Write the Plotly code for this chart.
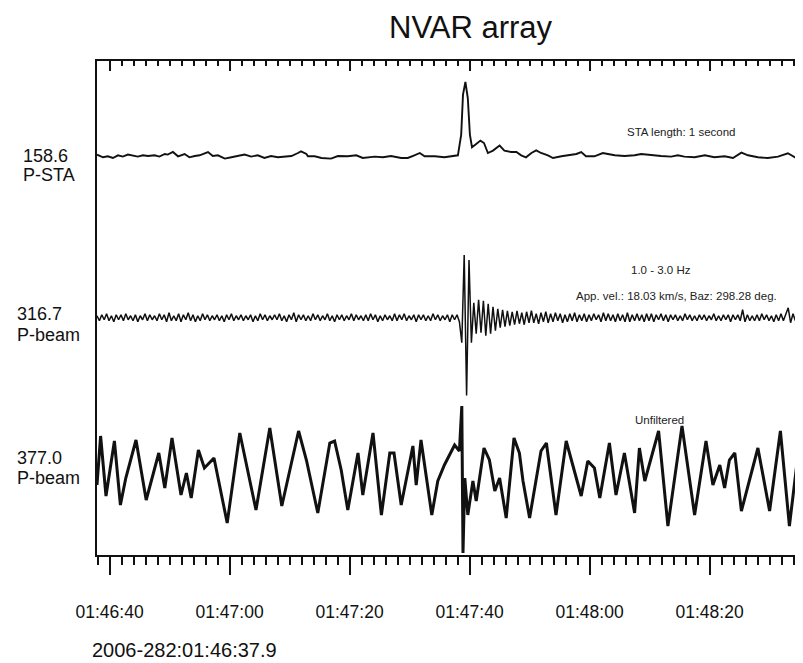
import numpy as np
import plotly.graph_objects as go

TITLE = "NVAR array"
START_LABEL = "2006-282:01:46:37.9"
TICK_LABELS = ["01:46:40", "01:47:00", "01:47:20", "01:47:40", "01:48:00", "01:48:20"]
TICK_SECONDS = [2.1, 22.1, 42.1, 62.1, 82.1, 102.1]   # seconds after 01:46:37.9
T_END = 119.0

# --- Trace 1: P-STA (seconds after start, amplitude) ---
STA_T = [0.0, 1.0, 1.8, 2.65, 3.5, 4.3, 5.15, 6.0, 6.8, 7.65, 8.5, 9.6, 10.4, 11.3, 11.8, 12.65,
         13.5, 14.6, 15.4, 16.3, 17.1, 18.5, 19.3, 20.15, 21.3, 22.4, 23.5, 24.6, 25.7, 26.8,
         27.9, 29.0, 30.15, 31.3, 32.4, 33.5, 34.0, 34.9, 35.15, 36.3, 37.4, 39.0, 40.15, 41.8,
         43.2, 44.3, 46.3, 47.65, 49.0, 50.7, 51.8, 52.9, 53.8, 54.6, 56.3, 57.9, 59.6, 60.15,
         60.7, 61.0, 61.4, 61.8, 62.15, 62.5, 63.2, 63.9, 64.5, 65.15, 66.0, 67.1, 67.9, 69.0,
         69.9, 70.7, 71.5, 72.4, 73.2, 74.0, 75.15, 76.0, 77.4, 79.0, 79.9, 80.7, 81.5, 82.9,
         84.3, 85.15, 86.3, 87.9, 89.6, 90.7, 92.4, 94.0, 95.7, 96.8, 97.9, 99.6, 101.3, 102.9,
         104.6, 106.0, 107.4, 108.5, 110.15, 111.8, 113.5, 115.15, 116.5, 117.9, 119.0]
STA_AMP = [1.7, -1.0, 0.0, -1.7, 1.0, -0.3, 1.7, 0.7, -0.3, 1.0, 0.3, 1.0, -0.3, 2.3, 1.7, 4.3,
           0.0, 2.3, -1.0, 0.3, 1.0, 4.3, 0.3, 1.0, -2.3, -1.0, 0.3, 1.7, -0.3, 1.0,
           -1.7, 0.3, -1.0, -0.7, 0.3, 3.3, 5.0, 2.3, 0.0, 0.0, -1.7, -2.3, 0.3, 0.0,
           1.0, -1.7, -0.3, -1.0, 0.3, -1.7, -1.7, 1.0, 3.3, 0.0, 0.0, -1.0, 0.3, 1.0,
           21.7, 61.7, 74.3, 58.3, 21.7, 9.0, 12.3, 15.7, 13.3, 3.3, 5.7, 10.7, 5.7, 4.3,
           4.3, 1.0, -1.0, 3.3, 6.0, 3.3, 1.0, -1.7, 0.0, 1.0, 2.3, 4.3, 0.0, 0.0,
           3.3, 2.3, 1.0, 0.3, 1.0, 2.3, 1.0, 0.3, -0.3, 1.0, -0.3, -1.0, 1.0, -1.0,
           0.0, -1.7, 3.7, 1.0, -1.0, -1.7, -0.3, 3.0, -1.7, 0.3, 1.0]

# --- Trace 2: filtered P-beam, 1.0-3.0 Hz (sampled every 0.4 s) ---
BEAM_DT = 0.4
BEAM_AMP = [
    2, -3, 3, -2, 4, -3, 2, -4, 3, -2, 3, -3, 4, -2, 2, -3, 3, -4, 2, -2, 4, -3, 3, -2, 2,
    -3, 4, -2, 3, -4, 5, -3, 2, -3, 4, -4, 3, -2, 5, -3, 3, -4, 2, -3, 4, -2, 3, -3, 2, -2,
    3, -3, 2, -4, 3, -2, 4, -3, 2, -2, 3, -3, 2, -2, 3, -4, 2, -3, 4, -2, 3, -3, 2, -2, 3,
    -2, 4, -3, 2, -4, 3, -2, 5, -4, 3, -2, 3, -3, 2, -3, 4, -2, 3, -3, 2, -2, 4, -3, 2, -4,
    3, -2, 3, -3, 2, -2, 4, -3, 3, -2, 2, -3, 3, -3, 4, -2, 3, -4, 2, -3, 3, -2, 2, -3, 4,
    -3, 3, -2, 4, -3, 2, -2, 3, -4, 3, -2, 3, -3, 2, -3, 4, -2, 3, -3, 2, -2, 3, -4, 3, -2,
    3, -4, -25, 63, -78, 58, -25, 15, -16, 18, -15, 17, -18, 14, -16, 11, -13, 9, -10, 8, -9, 7, -8, 6, -7,
    7, -6, 5, -7, 6, -5, 7, -5, 4, -6, 5, -4, 6, -5, 4, -4, 5, -3, 4, -5, 3, -4, 4, -3, 5,
    -4, 3, -3, 4, -4, 3, -3, 4, -2, 3, -4, 5, -3, 4, -3, 3, -4, 4, -3, 3, -4, 5, -4, 3, -3,
    4, -3, 3, -4, 4, -3, 4, -4, 3, -2, 4, -3, 3, -4, 3, -2, 3, -3, 2, -3, 4, -2, 3, -3, 2,
    -3, 3, -2, 3, -3, 2, -2, 4, -3, 2, -3, 3, -2, 3, -4, 3, -2, 3, -3, 8, -4, 3, -3, 2, -3,
    3, -3, 4, -2, 3, -3, 2, -4, 3, -3, 4, -3, 3, 10, -5, 4, -3, 3, -4, 3, -2, 4, 3]

# --- Trace 3: unfiltered P-beam ---
RAW_T = [0.0, 0.6, 1.5, 2.9, 3.9, 4.8, 6.5, 8.2, 10.3, 11.3, 12.5, 14.0, 14.9, 15.7, 16.9, 17.9,
         19.5, 21.7, 23.8, 26.5, 28.8, 30.8, 33.6, 34.9, 36.8, 38.8, 39.6, 40.7, 41.8, 43.5,
         44.3, 46.0, 47.4, 48.8, 49.5, 50.7, 52.65, 53.2, 54.0, 55.8, 56.8, 57.9, 59.6, 60.4,
         60.8, 61.0, 61.3, 61.8, 62.65, 63.2, 64.5, 65.4, 66.3, 67.1, 68.2, 69.5, 70.4, 71.0,
         72.1, 74.0, 74.9, 76.5, 78.2, 79.6, 80.7, 81.8, 82.9, 83.8, 85.4, 86.5, 87.9, 89.6,
         90.4, 91.3, 93.6, 95.15, 97.5, 99.6, 101.5, 102.65, 103.8, 104.6, 105.4, 106.3, 107.4,
         110.15, 112.1, 113.9, 115.4, 117.4, 119.0]
RAW_AMP = [-12, 37, -23, 32, -32, -5, 33, -27, 20, -15, 35, -22, 0, -25, 23, 5,
           15, -50, 40, -37, 45, -33, 42, 13, -40, 30, 32, 3, -37, 20,
           -22, 40, -42, 20, 20, -32, 27, -12, 33, -42, -8, 8, 28, 22,
           67, -80, -5, -42, -8, -28, 25, 13, -18, -5, -45, 35, 20, -8,
           -45, 22, 30, -42, 32, 2, -23, 12, 5, -25, 30, -22, 20, -40,
           25, -8, 42, -53, 47, -42, 32, -12, 8, -15, 13, 20, -38,
           25, -38, 42, -53, 47, 8]

TRACE_LABELS = [("158.6", "P-STA"), ("316.7", "P-beam"), ("377.0", "P-beam")]
NOTES = ["STA length: 1 second", "1.0 - 3.0 Hz",
         "App. vel.: 18.03 km/s, Baz: 298.28 deg.", "Unfiltered"]

# ---------------- figure ----------------
W, H = 803, 663
ML, MR, MT, MB = 89, 0, 53, 116
PH = H - MT - MB
FONT = "Liberation Sans, Arial, sans-serif"
INK = "#111111"


def py(p):  # pixel y -> paper y
    return (H - MB - p) / PH


def px(p):  # pixel x -> paper x
    return (p - ML) / (W - ML - MR)


d1, d2 = py(388), py(230)
beam_t = np.arange(len(BEAM_AMP)) * BEAM_DT
minor_vals = list(np.arange(0.1, T_END, 2.0))

fig = go.Figure()
fig.add_trace(go.Scatter(x=STA_T, y=STA_AMP, mode="lines", xaxis="x", yaxis="y",
                         line=dict(color=INK, width=1.9), hoverinfo="skip"))
fig.add_trace(go.Scatter(x=beam_t, y=BEAM_AMP, mode="lines", xaxis="x2", yaxis="y2",
                         line=dict(color=INK, width=1.5), hoverinfo="skip"))
fig.add_trace(go.Scatter(x=RAW_T, y=RAW_AMP, mode="lines", xaxis="x3", yaxis="y3",
                         line=dict(color=INK, width=3.0), hoverinfo="skip"))

common_x = dict(range=[0, T_END], showgrid=False, zeroline=False)
fig.update_layout(
    width=W, height=H, showlegend=False,
    paper_bgcolor="white", plot_bgcolor="white",
    margin=dict(l=ML, r=MR, t=MT, b=MB),
    font=dict(family=FONT, color=INK),
    xaxis=dict(**common_x, anchor="y", side="top", showline=True, linecolor=INK, linewidth=1.5,
               ticks="inside", tickmode="array", tickvals=TICK_SECONDS, ticklen=10, tickwidth=1.5,
               tickcolor=INK, showticklabels=False,
               minor=dict(ticks="inside", tickmode="array", tickvals=minor_vals, ticklen=5,
                          tickwidth=1.5, tickcolor=INK)),
    xaxis2=dict(**common_x, anchor="y2", visible=False),
    xaxis3=dict(**common_x, anchor="y3", side="bottom", showline=True, linecolor=INK, linewidth=1.5,
                ticks="outside", tickmode="array", tickvals=TICK_SECONDS, ticktext=TICK_LABELS,
                ticklen=18, tickwidth=1.5, tickcolor=INK, ticklabelstandoff=22,
                tickfont=dict(size=17.5, color=INK, family=FONT),
                minor=dict(ticks="outside", tickmode="array", tickvals=minor_vals, ticklen=8,
                           tickwidth=1.5, tickcolor=INK)),
    yaxis=dict(domain=[d2, 1], anchor="x", range=[-81.7, 95.3], showline=True, linecolor=INK,
               linewidth=1.5, ticks="inside", tickmode="array", tickvals=[-81.5], ticklen=10,
               tickwidth=1.5, tickcolor=INK, showticklabels=False, showgrid=False, zeroline=False),
    yaxis2=dict(domain=[d1, d2], anchor="x2", range=[-78.5, 80], showline=True, linecolor=INK,
                linewidth=1.5, ticks="inside", tickmode="array", tickvals=[-78.3], ticklen=10,
                tickwidth=1.5, tickcolor=INK, showticklabels=False, showgrid=False, zeroline=False),
    yaxis3=dict(domain=[0, d1], anchor="x3", range=[-82, 77], showline=True, linecolor=INK,
                linewidth=1.5, ticks="", showticklabels=False, showgrid=False, zeroline=False),
)

# right-edge divider ticks
for yv in (d1, d2):
    fig.add_shape(type="line", xref="paper", yref="paper", x0=1 - 8 / (W - ML - MR), x1=1,
                  y0=yv, y1=yv, line=dict(color=INK, width=1.5))

ann = []
ann.append(dict(text=TITLE, x=px(463), y=py(20), font=dict(size=31)))
label_pos = [((13, 148), (13, 167)), ((7, 306), (7, 327)), ((7, 450), (7, 470))]
for (a, b), ((xa, ya), (xb, yb)) in zip(TRACE_LABELS, label_pos):
    ann.append(dict(text=a, x=px(xa), y=py(ya), xanchor="left", font=dict(size=18)))
    ann.append(dict(text=b, x=px(xb), y=py(yb), xanchor="left", font=dict(size=18)))
note_pos = [(673, 124), (653, 262), (668, 288), (651, 412)]
for t, (nx, ny) in zip(NOTES, note_pos):
    ann.append(dict(text=t, x=px(nx), y=py(ny), font=dict(size=11.5, color="#222222")))
ann.append(dict(text=START_LABEL, x=px(82), y=py(642), xanchor="left", font=dict(size=20)))

for a in ann:
    a.setdefault("xanchor", "center")
    fig.add_annotation(xref="paper", yref="paper", showarrow=False, yanchor="middle", **a)

fig.write_html("out.html")
